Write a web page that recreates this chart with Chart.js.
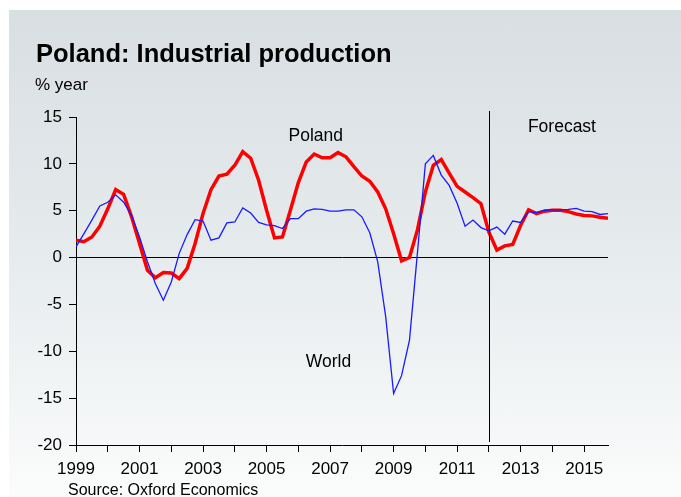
<!DOCTYPE html>
<html>
<head>
<meta charset="utf-8">
<script src="https://cdn.jsdelivr.net/npm/chart.js@4.4.0/dist/chart.umd.min.js"></script>
<style>
  html, body { margin: 0; padding: 0; background: #fff; }
  #wrap { position: relative; width: 681px; height: 497px; overflow: hidden; font-family: "Liberation Sans", Arial, sans-serif; }
  #panel { position: absolute; left: 9px; top: 10px; width: 672px; height: 487px;
           background: linear-gradient(to bottom, #d8dfe2 0%, #e6ebed 50%, #fbfcfc 100%); }
  #chart-area { position: absolute; left: 0; top: 0; }
  .txt { position: absolute; line-height: 1; color: #000; white-space: nowrap; }
  #title { left: 36px; top: 41px; font-size: 25.5px; font-weight: bold; }
  #unit { left: 35px; top: 76px; font-size: 17px; }
  #source { left: 68px; top: 482px; font-size: 16px; }
</style>
</head>
<body>
<div id="wrap">
  <div id="panel"></div>
  <canvas id="chart-area" width="681" height="497"></canvas>
  <div class="txt" id="title">Poland: Industrial production</div>
  <div class="txt" id="unit">% year</div>
  <div class="txt" id="source">Source: Oxford Economics</div>
</div>
<script>
// quarterly data, 1999Q1 .. 2015Q4 (forecast from 2012)
var startYear = 1999;
var poland = [
  1.85, 1.7, 2.2, 3.35,  5.2, 7.25, 6.75, 4.35,  1.5, -1.35, -2.15, -1.6,
  -1.65, -2.25, -1.15, 1.5,  4.7, 7.25, 8.7, 8.9,  9.85, 11.3, 10.6, 8.25,
  5.05, 2.1, 2.2, 5.05,  8.0, 10.2, 11.05, 10.65,  10.65, 11.2, 10.75, 9.7,
  8.7, 8.15, 7.0, 5.2,  2.55, -0.35, 0.0, 2.95,  7.0, 9.85, 10.45, 9.0,
  7.6, 7.0, 6.4, 5.75,  2.7, 0.8, 1.25, 1.4,  3.45, 5.1, 4.7, 4.95,
  5.05, 5.05, 4.9, 4.65,  4.5, 4.45, 4.3, 4.2
];
var world = [
  1.15, 2.55, 4.0, 5.5,  5.9, 6.7, 5.9, 4.5,  2.2, -0.45, -2.8, -4.55,
  -2.6, 0.45, 2.45, 4.05,  3.9, 1.85, 2.1, 3.7,  3.8, 5.3, 4.75, 3.75,
  3.5, 3.4, 3.1, 4.15,  4.15, 4.95, 5.2, 5.15,  4.95, 4.95, 5.1, 5.1,
  4.35, 2.65, -0.45, -6.3,  -14.5, -12.6, -8.8, 0.5,  10.0, 10.9, 8.8, 7.7,
  5.8, 3.35, 4.0, 3.2,  2.85, 3.25, 2.5, 3.9,  3.75, 4.9, 4.8, 5.05,
  5.1, 5.1, 5.15, 5.25,  4.95, 4.9, 4.6, 4.7
];
var forecastStart = 2012;
var yTicks = [-20, -15, -10, -5, 0, 5, 10, 15];
var notes = [
  { text: 'Poland', x: 2006.55, y: 13.0 },
  { text: 'World', x: 2006.95, y: -11.2 },
  { text: 'Forecast', x: 2014.3, y: 13.9 }
];

function toPoints(arr) {
  return arr.map(function (v, i) { return { x: startYear + i / 4, y: v }; });
}

Chart.defaults.font.family = '"Liberation Sans", Arial, sans-serif';
Chart.defaults.color = '#000';

var extras = {
  id: 'extras',
  afterDatasetsDraw: function (chart) {
    var ctx = chart.ctx, xs = chart.scales.x, ys = chart.scales.y, area = chart.chartArea;
    var fx = Math.round(xs.getPixelForValue(forecastStart)) + 0.5;
    ctx.save();
    ctx.strokeStyle = '#000';
    ctx.lineWidth = 1;
    ctx.beginPath();
    ctx.moveTo(fx, area.top - 6);
    ctx.lineTo(fx, area.bottom - 3);
    ctx.stroke();
    ctx.fillStyle = '#000';
    ctx.font = '17.5px "Liberation Sans", Arial, sans-serif';
    ctx.textAlign = 'center';
    ctx.textBaseline = 'middle';
    notes.forEach(function (n) {
      ctx.fillText(n.text, xs.getPixelForValue(n.x), ys.getPixelForValue(n.y));
    });
    ctx.restore();
  }
};

var config = {
  type: 'line',
  data: {
    datasets: [{
      label: 'Poland',
      data: toPoints(poland),
      borderColor: '#ff0000',
      borderWidth: 3.5,
      pointRadius: 0,
      tension: 0,
      order: 1
    }, {
      label: 'World',
      data: toPoints(world),
      borderColor: '#1a1aff',
      borderWidth: 1.3,
      pointRadius: 0,
      tension: 0,
      order: 0
    }]
  },
  options: {
    responsive: false,
    animation: false,
    layout: { padding: { top: 117, right: 73, bottom: 0, left: 0 } },
    plugins: { legend: { display: false }, tooltip: { enabled: false } },
    scales: {
      x: {
        type: 'linear',
        min: startYear,
        max: 2015.75,
        afterFit: function (s) { s.height = 52; },
        ticks: {
          stepSize: 1,
          includeBounds: false,
          autoSkip: false,
          maxRotation: 0,
          padding: 7,
          font: { size: 17 },
          callback: function (v) { return v % 2 === 1 ? String(v) : ''; }
        },
        grid: { drawOnChartArea: false, tickLength: 7, tickColor: '#000' },
        border: { display: true, color: '#000', width: 1 }
      },
      y: {
        min: yTicks[0],
        max: yTicks[yTicks.length - 1],
        afterFit: function (s) { s.width = 76; },
        afterBuildTicks: function (s) { s.ticks = yTicks.map(function (v) { return { value: v }; }); },
        ticks: { padding: 7, font: { size: 17 } },
        grid: {
          drawOnChartArea: true,
          tickLength: 7,
          tickColor: '#000',
          color: function (c) { return c.tick && c.tick.value === 0 ? '#000' : 'rgba(0,0,0,0)'; }
        },
        border: { display: true, color: '#000', width: 1 }
      }
    }
  },
  plugins: [extras]
};

window.onload = function () {
  var ctx = document.getElementById('chart-area').getContext('2d');
  window.myLine = new Chart(ctx, config);
};
</script>
</body>
</html>
